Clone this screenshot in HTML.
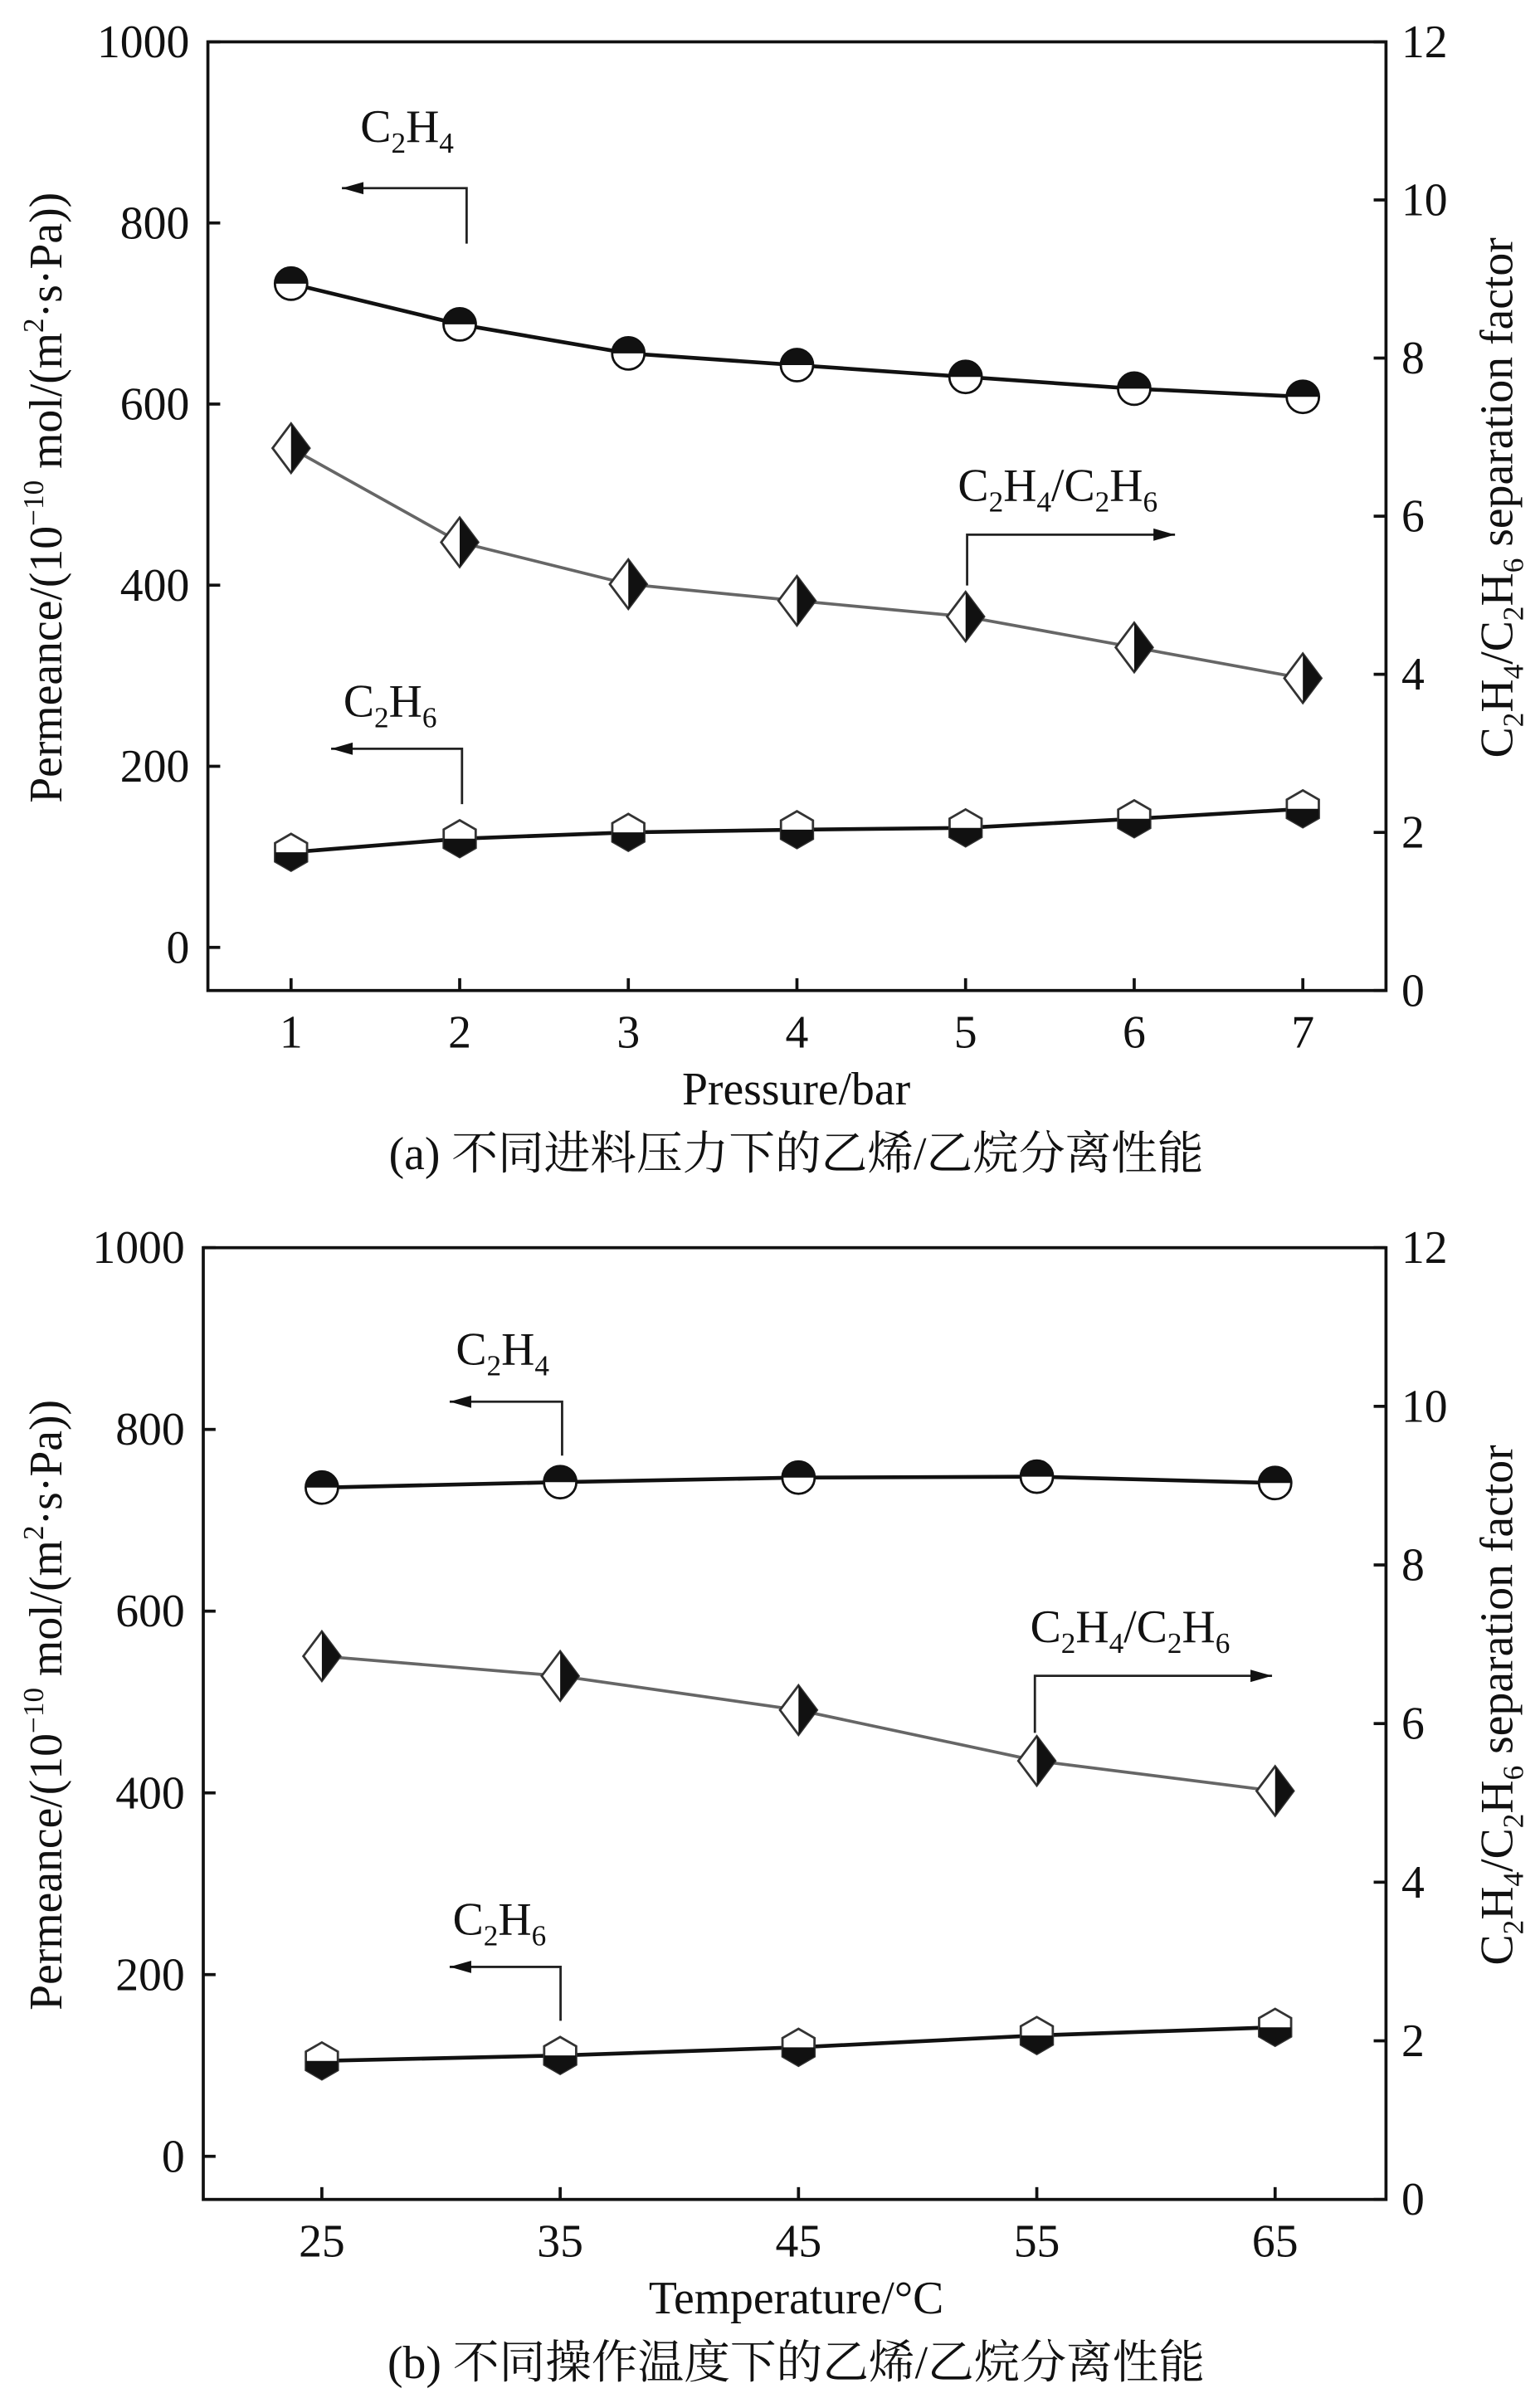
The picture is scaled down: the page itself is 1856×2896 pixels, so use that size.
<!DOCTYPE html>
<html><head><meta charset="utf-8"><style>html,body{margin:0;padding:0;background:#fff}svg{display:block}text{font-family:"Liberation Serif","Noto Serif CJK SC",serif;fill:#111}</style></head>
<body>
<svg id="svg" width="1856" height="2896" viewBox="0 0 1000 1560" xmlns="http://www.w3.org/2000/svg"></svg>
<script>
const pressures=[1,2,3,4,5,6,7];
const aC2H4=[733,688,656,643,630,617,608];
const aRatio=[6.86,5.67,5.14,4.93,4.73,4.34,3.95];
const aC2H6=[105,120,127,130,132,142,153];
const temps=[25,35,45,55,65];
const bC2H4=[736,742,747,748,741];
const bRatio=[6.85,6.60,6.17,5.53,5.15];
const bC2H6=[105,111,120,133,142];
const leftTicks=[0,200,400,600,800,1000];
const rightTicks=[0,2,4,6,8,10,12];

const NS="http://www.w3.org/2000/svg";
const svg=document.getElementById('svg');
function el(tag,attrs,parent,txt){const e=document.createElementNS(NS,tag);for(const k in attrs)e.setAttribute(k,attrs[k]);if(txt!==undefined)e.textContent=txt;(parent||svg).appendChild(e);return e;}

function panel(cfg){
  const g=el('g',{});
  
  
  const {L,R,T,B,y0,y1000,x0v,x0p,x1v,x1p}=cfg;
  const ly=v=>y0+(y1000-y0)*v/1000;
  const ry=v=>B+(T-B)*v/12;
  const xs=v=>x0p+(x1p-x0p)*(v-x0v)/(x1v-x0v);
  const frame=el('rect',{x:L,y:T,width:R-L,height:B-T,fill:'none',stroke:'#111','stroke-width':2},g);
  
  leftTicks.forEach(v=>{const y=ly(v);
    const t=el('line',{x1:L,x2:L+8,y1:y,y2:y,stroke:'#111','stroke-width':2},g);
    
    const tx=el('text',{x:L-12,y:y+10,'text-anchor':'end','font-size':30},g,String(v));
    });
  rightTicks.forEach(v=>{const y=ry(v);
    const t=el('line',{x1:R-8,x2:R,y1:y,y2:y,stroke:'#111','stroke-width':2},g);
    
    const tx=el('text',{x:R+10,y:y+10,'font-size':30},g,String(v));
    });
  cfg.xv.forEach(v=>{const x=xs(v);
    const t=el('line',{x1:x,x2:x,y1:B,y2:B-8,stroke:'#111','stroke-width':2},g);
    
    const tx=el('text',{x:x,y:B+37,'text-anchor':'middle','font-size':30},g,String(v));
    });
  const line=(vals,fy,stroke,w,name)=>{const p=el('polyline',{points:vals.map((v,i)=>xs(cfg.xv[i])+','+fy(v)).join(' '),fill:'none',stroke:stroke,'stroke-width':w},g);
    };
  line(cfg.c2h4,ly,'#111',2.5,'c2h4-line');
  line(cfg.ratio,ry,'#666',2,'ratio-line');
  line(cfg.c2h6,ly,'#111',2.5,'c2h6-line');
  cfg.c2h4.forEach((v,i)=>{const x=xs(cfg.xv[i]),y=ly(v),r=10.5;
    const m=el('g',{},g);
    el('circle',{cx:x,cy:y,r:r,fill:'#fff',stroke:'#111','stroke-width':1.5},m);
    el('path',{d:`M${x-r},${y} A${r},${r} 0 0 1 ${x+r},${y} Z`,fill:'#111'},m);});
  cfg.ratio.forEach((v,i)=>{const x=xs(cfg.xv[i]),y=ry(v),w=12,h=16;
    const m=el('g',{},g);
    el('polygon',{points:`${x},${y-h} ${x+w},${y} ${x},${y+h} ${x-w},${y}`,fill:'#fff',stroke:'#333','stroke-width':1.5},m);
    el('polygon',{points:`${x},${y-h} ${x+w},${y} ${x},${y+h}`,fill:'#111'},m);});
  cfg.c2h6.forEach((v,i)=>{const x=xs(cfg.xv[i]),y=ly(v),r=12;
    const m=el('g',{},g);
    const pts=[];for(let k=0;k<6;k++){const a=Math.PI/6+k*Math.PI/3;pts.push([x+r*Math.cos(a),y+r*Math.sin(a)]);}
    el('polygon',{points:pts.map(p=>p.join(',')).join(' '),fill:'#fff',stroke:'#333','stroke-width':1.5},m);
    el('polygon',{points:`${x+r*0.866},${y} ${pts[0].join(',')} ${pts[1].join(',')} ${pts[2].join(',')} ${x-r*0.866},${y}`,fill:'#111'},m);});
  cfg.ann.forEach(a=>{const m=el('g',{},g);
    el('polyline',{points:`${a.sx},${a.sy} ${a.sx},${a.cy} ${a.ex},${a.cy}`,fill:'none',stroke:'#222','stroke-width':1.5},m);
    const d=a.ex<a.sx?1:-1;
    el('polygon',{points:`${a.ex},${a.cy} ${a.ex+14*d},${a.cy-4} ${a.ex+14*d},${a.cy+4}`,fill:'#111'},m);
    const t=el('text',{x:a.tx,y:a.ty,'font-size':30},m);t.innerHTML=a.label;});
  const xl=el('text',{x:517,y:B+74,'text-anchor':'middle','font-size':30},g,cfg.xlabel);
  
  const cap=el('text',{x:517,y:B+116,'text-anchor':'middle','font-size':30},g,cfg.caption);
  
  const yl=el('text',{transform:`translate(40,${(T+B)/2-12}) rotate(-90)`,'text-anchor':'middle','font-size':30},g);
  yl.innerHTML='Permeance/(10<tspan font-size="19" dy="-12">−10</tspan><tspan dy="12"> mol/(m</tspan><tspan font-size="19" dy="-12">2</tspan><tspan dy="12">·s·Pa))</tspan>';
  
  const yr=el('text',{transform:`translate(982,${(T+B)/2-12}) rotate(-90)`,'text-anchor':'middle','font-size':30},g);
  yr.innerHTML='C<tspan font-size="19" dy="7">2</tspan><tspan dy="-7">H</tspan><tspan font-size="19" dy="7">4</tspan><tspan dy="-7">/C</tspan><tspan font-size="19" dy="7">2</tspan><tspan dy="-7">H</tspan><tspan font-size="19" dy="7">6</tspan><tspan dy="-7"> separation factor</tspan>';
  
}
const sub=(a,b)=>`C<tspan font-size="19" dy="7">2</tspan><tspan dy="-7">H</tspan><tspan font-size="19" dy="7">${a}</tspan>`+(b?`<tspan dy="-7">/C</tspan><tspan font-size="19" dy="7">2</tspan><tspan dy="-7">H</tspan><tspan font-size="19" dy="7">${b}</tspan>`:'');
panel({name:'panel-a',L:135,R:900,T:27,B:643,y0:615,y1000:27,x0v:1,x0p:189,x1v:7,x1p:846,xv:pressures,
  c2h4:aC2H4,ratio:aRatio,c2h6:aC2H6,xlabel:'Pressure/bar',caption:'(a) 不同进料压力下的乙烯/乙烷分离性能',
  ann:[{name:'c2h4-annotation',sx:303,sy:158,cy:122,ex:222,tx:234,ty:92,label:sub(4)},
       {name:'ratio-annotation',sx:628,sy:380,cy:347,ex:763,tx:622,ty:325,label:sub(4,6)},
       {name:'c2h6-annotation',sx:300,sy:522,cy:486,ex:215,tx:223,ty:465,label:sub(6)}]});
panel({name:'panel-b',L:132,R:900,T:810,B:1428,y0:1400,y1000:810,x0v:25,x0p:209,x1v:65,x1p:828,xv:temps,
  c2h4:bC2H4,ratio:bRatio,c2h6:bC2H6,xlabel:'Temperature/°C',caption:'(b) 不同操作温度下的乙烯/乙烷分离性能',
  ann:[{name:'c2h4-annotation',sx:365,sy:945,cy:910,ex:292,tx:296,ty:886,label:sub(4)},
       {name:'ratio-annotation',sx:672,sy:1125,cy:1088,ex:826,tx:669,ty:1066,label:sub(4,6)},
       {name:'c2h6-annotation',sx:364,sy:1312,cy:1277,ex:292,tx:294,ty:1256,label:sub(6)}]});
</script>
</body></html>
